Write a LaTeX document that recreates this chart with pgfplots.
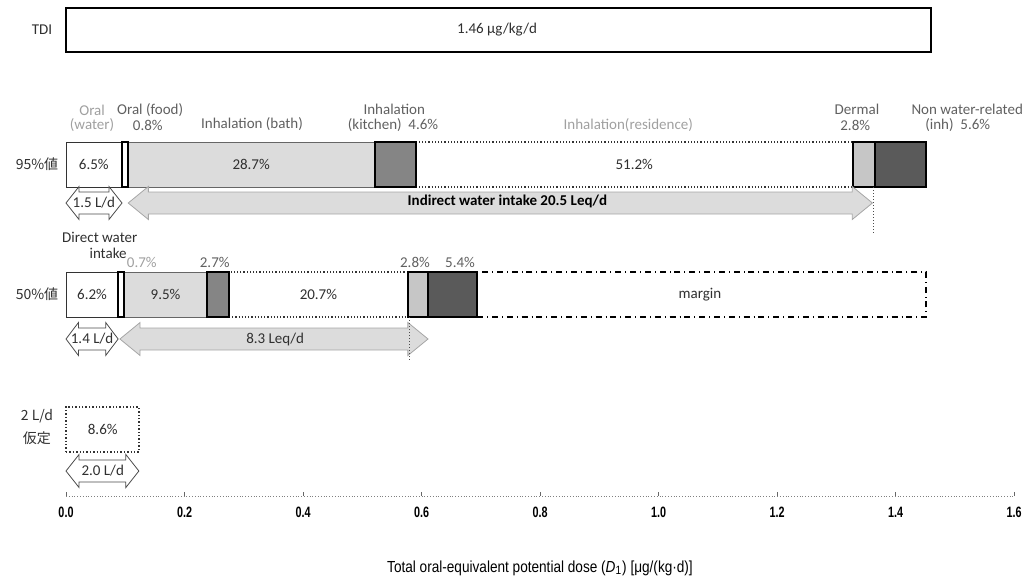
\documentclass[border=0pt]{standalone}
\usepackage{fontspec}
\setmainfont{Carlito}
\newfontfamily\jpfont{Noto Sans CJK JP}
\newfontfamily\narrowfont[FakeStretch=0.72]{Liberation Sans}
\newfontfamily\titlefont[FakeStretch=0.85]{Liberation Sans}
\usepackage{pgfplots}
\pgfplotsset{compat=1.18}
\definecolor{lgray}{HTML}{DCDCDC}
\definecolor{dgray}{HTML}{858585}
\definecolor{ddgray}{HTML}{5A5A5A}
\definecolor{mgray}{HTML}{C6C6C6}
\definecolor{txtlight}{HTML}{A0A0A0}
\definecolor{txtmid}{HTML}{606060}
\definecolor{txtdark}{HTML}{303030}
\begin{document}
\begin{tikzpicture}[lab/.style={font=\fontsize{7.5}{8}\selectfont, inner sep=0pt, align=center}]
\begin{axis}[
  x=296.25pt, y=0.5pt,
  xmin=0, xmax=1.6, ymin=0, ymax=496,
  axis x line*=bottom, axis y line=none,
  x axis line style={draw=gray, densely dotted, -},
  xtick={0,0.2,0.4,0.6,0.8,1.0,1.2,1.4,1.6},
  major tick length=2pt,
  tick style={black!60, solid},
  /pgf/number format/assume math mode=true,
  xticklabel style={font=\narrowfont\bfseries\fontsize{7.5}{8}\selectfont, anchor=center, yshift=-8pt,
    /pgf/number format/.cd, fixed, fixed zerofill, precision=1},
  xlabel={Total oral-equivalent potential dose (\textit{D}\textsubscript{1}) [μg/(kg·d)]},
  xlabel style={font=\titlefont\fontsize{8}{9}\selectfont, at={(axis description cs:0.5,-0.1452)}, anchor=center},
  clip=false,
]
% ---------- TDI ----------
\addplot[fill=white, draw=black, line width=0.6pt] coordinates {(0,444) (1.46,444) (1.46,488) (0,488)} -- cycle;
\node[lab, text=txtdark] at (axis cs:0.7275,466) {1.46 μg/kg/d};
\node[lab, text=txtdark] at (axis cs:-0.0405,466) {TDI};

% ---------- 95% ----------
\addplot[fill=white, draw=black!80, line width=0.5pt] coordinates {(0,309) (0.094,309) (0.094,354) (0,354)} -- cycle;
\addplot[fill=lgray, draw=black!60, line width=0.5pt] coordinates {(0.104,309) (0.521,309) (0.521,354) (0.104,354)} -- cycle;
\addplot[fill=white, draw=black!80, densely dotted, line width=0.6pt] coordinates {(0.590,309) (1.328,309) (1.328,354) (0.590,354)} -- cycle;
\addplot[fill=white, draw=black, line width=1pt] coordinates {(0.094,309) (0.104,309) (0.104,354) (0.094,354)} -- cycle;
\addplot[fill=dgray, draw=black, line width=1pt] coordinates {(0.521,309) (0.590,309) (0.590,354) (0.521,354)} -- cycle;
\addplot[fill=mgray, draw=black, line width=0.8pt] coordinates {(1.328,309) (1.366,309) (1.366,354) (1.328,354)} -- cycle;
\addplot[fill=ddgray, draw=black, line width=1pt] coordinates {(1.366,309) (1.452,309) (1.452,354) (1.366,354)} -- cycle;
\node[lab, text=txtdark] at (axis cs:0.047,331.5) {6.5\%};
\node[lab, text=txtdark] at (axis cs:0.3125,331.5) {28.7\%};
\node[lab, text=txtdark] at (axis cs:0.959,331.5) {51.2\%};
\node[lab, text=txtdark, font=\jpfont\fontsize{7}{8}\selectfont] at (axis cs:-0.049,331.5) {95\%値};
% top labels
\node[lab, text=txtlight] at (axis cs:0.044,386) {Oral};
\node[lab, text=txtlight] at (axis cs:0.044,371) {(water)};
\node[lab, text=txtmid] at (axis cs:0.142,386) {Oral (food)};
\node[lab, text=txtmid] at (axis cs:0.138,371) {0.8\%};
\node[lab, text=txtmid] at (axis cs:0.314,372) {Inhalation (bath)};
\node[lab, text=txtmid] at (axis cs:0.554,387) {Inhalation};
\node[lab, text=txtmid] at (axis cs:0.552,371) {(kitchen)\ \ 4.6\%};
\node[lab, text=txtlight] at (axis cs:0.949,371) {Inhalation(residence)};
\node[lab, text=txtmid] at (axis cs:1.335,387) {Dermal};
\node[lab, text=txtmid] at (axis cs:1.332,371) {2.8\%};
\node[lab, text=txtmid] at (axis cs:1.521,387) {Non water-related};
\node[lab, text=txtmid] at (axis cs:1.505,371) {(inh)\ \ 5.6\%};
% arrows row 1
\addplot[fill=white, draw=black!70, line width=0.4pt] coordinates {(0,293) (0.022,309.5) (0.022,304) (0.0725,304) (0.0725,309.5) (0.0945,293) (0.0725,276.5) (0.0725,282) (0.022,282) (0.022,276.5)} -- cycle;
\node[lab, text=txtdark] at (axis cs:0.047,293) {1.5 L/d};
\addplot[fill=lgray, draw=black!35, line width=0.4pt] coordinates {(0.105,293) (0.139,309.5) (0.139,304) (1.327,304) (1.327,309.5) (1.361,293) (1.327,276.5) (1.327,282) (0.139,282) (0.139,276.5)} -- cycle;
\node[lab, text=black, font=\bfseries\fontsize{7.5}{8}\selectfont] at (axis cs:0.745,295) {Indirect water intake 20.5 Leq/d};
\addplot[densely dotted, black!70, line width=0.5pt] coordinates {(1.362,309) (1.362,261)};
\node[lab, text=txtdark] at (axis cs:0.057,259) {Direct water};
\node[lab, text=txtdark] at (axis cs:0.071,243) {intake};

% ---------- 50% ----------
\addplot[fill=white, draw=black, dash dot, line width=0.9pt] coordinates {(0.694,179) (1.452,179) (1.452,224) (0.694,224)} -- cycle;
\addplot[fill=white, draw=black!80, line width=0.5pt] coordinates {(0,179) (0.088,179) (0.088,224) (0,224)} -- cycle;
\addplot[fill=lgray, draw=black!60, line width=0.5pt] coordinates {(0.098,179) (0.238,179) (0.238,224) (0.098,224)} -- cycle;
\addplot[fill=white, draw=black!80, densely dotted, line width=0.6pt] coordinates {(0.275,179) (0.577,179) (0.577,224) (0.275,224)} -- cycle;
\addplot[fill=white, draw=black, line width=1pt] coordinates {(0.088,179) (0.098,179) (0.098,224) (0.088,224)} -- cycle;
\addplot[fill=dgray, draw=black, line width=1pt] coordinates {(0.238,179) (0.275,179) (0.275,224) (0.238,224)} -- cycle;
\addplot[fill=mgray, draw=black, line width=0.8pt] coordinates {(0.577,179) (0.611,179) (0.611,224) (0.577,224)} -- cycle;
\addplot[fill=ddgray, draw=black, line width=1pt] coordinates {(0.611,179) (0.694,179) (0.694,224) (0.611,224)} -- cycle;
\node[lab, text=txtdark] at (axis cs:0.044,201.5) {6.2\%};
\node[lab, text=txtdark] at (axis cs:0.168,201.5) {9.5\%};
\node[lab, text=txtdark] at (axis cs:0.426,201.5) {20.7\%};
\node[lab, text=txtdark] at (axis cs:1.07,201.5) {margin};
\node[lab, text=txtdark, font=\jpfont\fontsize{7}{8}\selectfont] at (axis cs:-0.049,201.5) {50\%値};
\node[lab, text=txtlight] at (axis cs:0.128,234) {0.7\%};
\node[lab, text=txtmid] at (axis cs:0.251,234) {2.7\%};
\node[lab, text=txtmid] at (axis cs:0.589,234) {2.8\%};
\node[lab, text=txtmid] at (axis cs:0.665,234) {5.4\%};
% arrows row 2
\addplot[fill=white, draw=black!70, line width=0.4pt] coordinates {(0,157) (0.021,173.5) (0.021,168) (0.067,168) (0.067,173.5) (0.088,157) (0.067,140.5) (0.067,146) (0.021,146) (0.021,140.5)} -- cycle;
\node[lab, text=txtdark] at (axis cs:0.044,157) {1.4 L/d};
\addplot[fill=lgray, draw=black!35, line width=0.4pt] coordinates {(0.091,157) (0.125,173.5) (0.125,168) (0.577,168) (0.577,173.5) (0.611,157) (0.577,140.5) (0.577,146) (0.125,146) (0.125,140.5)} -- cycle;
\node[lab, text=txtdark] at (axis cs:0.353,157) {8.3 Leq/d};
\addplot[densely dotted, black!70, line width=0.5pt] coordinates {(0.579,179) (0.579,134)};

% ---------- 2 L/d ----------
\addplot[fill=white, draw=black!80, densely dotted, line width=0.7pt] coordinates {(0,44) (0.123,44) (0.123,89) (0,89)} -- cycle;
\node[lab, text=txtdark] at (axis cs:0.062,66.5) {8.6\%};
\node[lab, text=txtdark, font=\jpfont\fontsize{7}{8}\selectfont] at (axis cs:-0.049,80) {2 L/d};
\node[lab, text=txtdark, font=\jpfont\fontsize{7}{8}\selectfont] at (axis cs:-0.049,58) {仮定};
\addplot[fill=white, draw=black!70, line width=0.4pt] coordinates {(0,25) (0.022,41.5) (0.022,36) (0.101,36) (0.101,41.5) (0.123,25) (0.101,8.5) (0.101,14) (0.022,14) (0.022,8.5)} -- cycle;
\node[lab, text=txtdark] at (axis cs:0.062,25) {2.0 L/d};

\coordinate (bbl) at (axis cs:-0.1114,-84);
\coordinate (bbr) at (axis cs:1.6253,496);
\end{axis}
\pgfresetboundingbox
\path[use as bounding box] (bbl) rectangle (bbr);
\end{tikzpicture}
\end{document}
